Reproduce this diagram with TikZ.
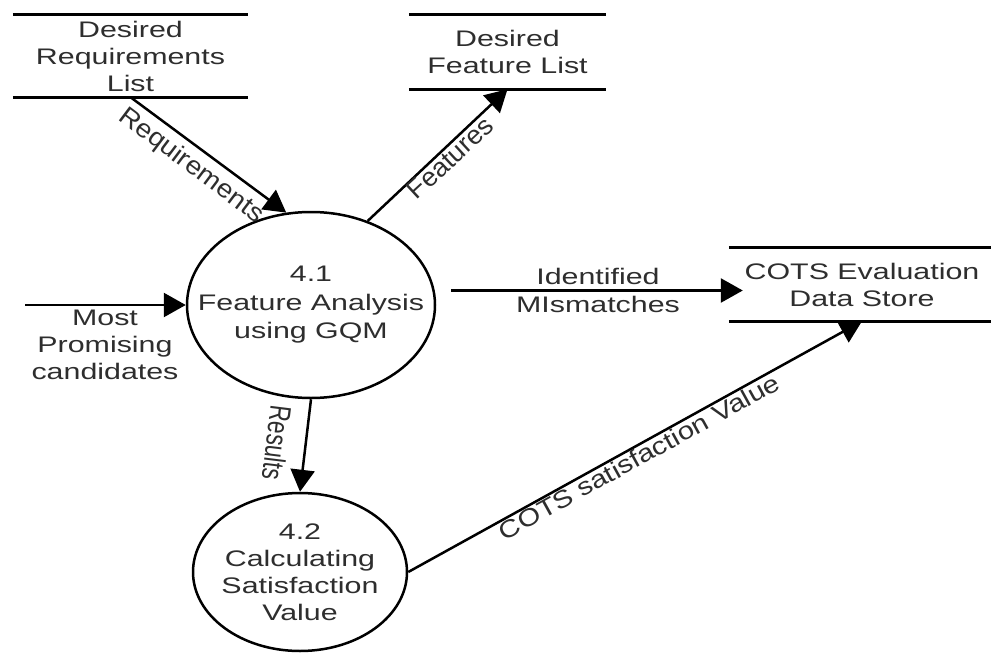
\documentclass[tikz,border=0pt]{standalone}
\usepackage{fontspec}
\setmainfont{Liberation Sans}[FakeStretch=1.35]
\newfontfamily\plainsans{Liberation Sans}
\usetikzlibrary{shapes.geometric,arrows.meta}
\begin{document}
\begin{tikzpicture}[x=1pt,y=-1pt,
  every node/.style={font=\fontsize{22.5}{27}\selectfont, text=black!82, align=center, inner sep=0pt},
  store/.style={draw=none, rectangle},
  storeline/.style={line width=2.8pt, black},
  proc/.style={ellipse, draw=black, line width=2.5pt},
  flow/.style={draw=black, line width=2.5pt, -{Triangle[length=22pt,width=24pt]}},
  lbl/.style={},
  rlbl/.style={font=\fontsize{22.5}{27}\plainsans}
]
\fill[white] (0,0) rectangle (991,653);
\useasboundingbox (0,0) rectangle (991,653);

% data stores
\node[store, minimum width=235pt, minimum height=82pt] (drl) at (130.5,56) {Desired\\Requirements\\List};
\draw[storeline] (drl.north west) -- (drl.north east);
\draw[storeline] (drl.south west) -- (drl.south east);

\node[store, minimum width=197pt, minimum height=74pt] (dfl) at (507.5,52) {Desired\\Feature List};
\draw[storeline] (dfl.north west) -- (dfl.north east);
\draw[storeline] (dfl.south west) -- (dfl.south east);

\node[store, minimum width=266pt, minimum height=73pt] (cots) at (862,284.5) {COTS Evaluation\\Data Store};
\draw[storeline] (cots.north west) -- (cots.north east);
\draw[storeline] (cots.south west) -- (cots.south east);

% processes
\node[proc, minimum width=248pt, minimum height=186pt,
  label={[align=center, font=\fontsize{22.5}{28.5}\selectfont]center:4.1\\Feature Analysis\\using GQM}] (p41) at (311,305) {};
\node[proc, minimum width=214pt, minimum height=158pt,
  label={[align=center]center:4.2\\Calculating\\Satisfaction\\Value}] (p42) at (300,572) {};

% external source
\coordinate (mpc) at (25,305);

% flows
\draw[flow] (drl.south) -- (p41.105);
\draw[flow] (p41.56) -- (dfl.south);
\draw[flow] (mpc) -- (p41.west);
\draw[flow] ([xshift=15pt,yshift=14.5pt]p41.east) -- ([xshift=14pt,yshift=-6pt]cots.west);
\draw[flow] (p41.south) -- (p42.north);
\draw[flow] (p42.east) -- (cots.south);

% labels
\node[rlbl, rotate=-37] at (191,166) {\scalebox{1.24}[1.14]{Requirements}};
\node[rlbl, rotate=42.8] at (450,158) {\scalebox{1.2}[1.17]{Features}};
\node[lbl] at (105,345) {Most\\Promising\\candidates};
\node[lbl, font=\fontsize{22.5}{28}\selectfont] at (598,290) {Identified\\MIsmatches};
\node[rlbl, rotate=-97] at (277,443) {\scalebox{1}[1.33]{Results}};
\node[rlbl, rotate=28.9] at (639,457) {\scalebox{1.3}[1.09]{COTS satisfaction Value}};
\end{tikzpicture}
\end{document}
